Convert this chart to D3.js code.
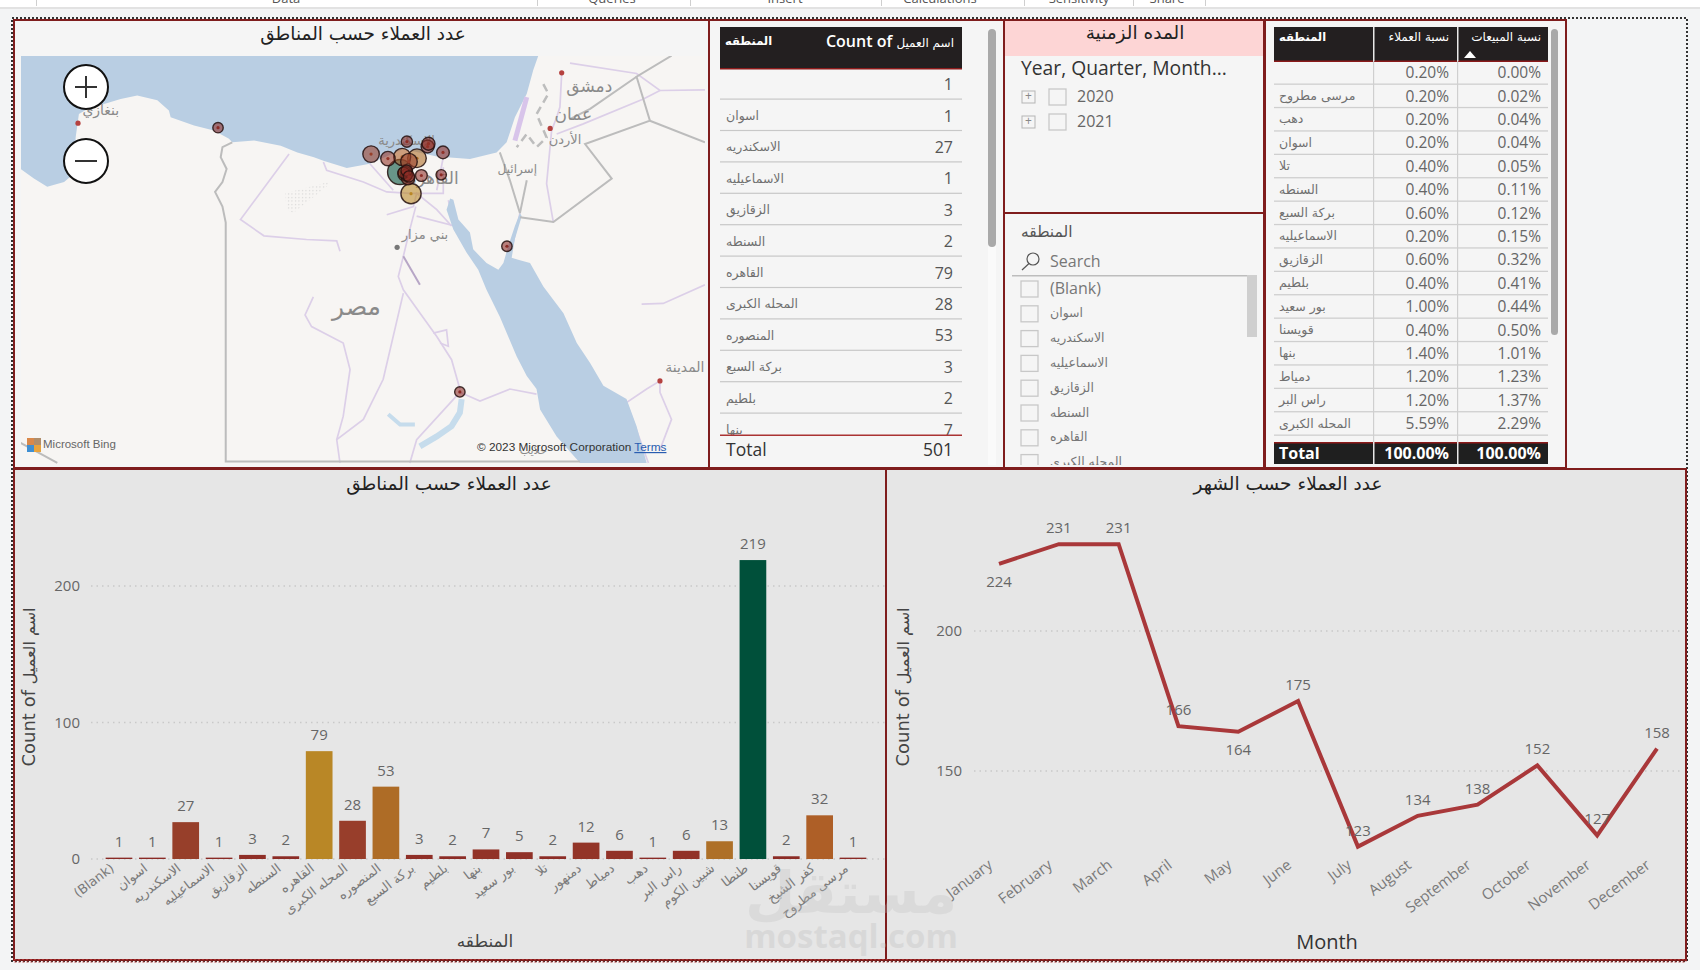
<!DOCTYPE html>
<html lang="ar"><head><meta charset="utf-8">
<script src="https://cdn.jsdelivr.net/npm/d3@7"></script>
<style>
html,body{margin:0;padding:0;background:#f3f4f5;overflow:hidden}
svg{display:block}
text{font-family:"Open Sans","DejaVu Sans",sans-serif}
.ar{font-family:"DejaVu Sans",sans-serif}
.axis path{display:none}
</style></head><body>
<script>
// ---------- data ----------
const regions=["(Blank)","اسوان","الاسكندريه","الاسماعيليه","الزقازيق","السنطه","القاهره","المحله الكبرى","المنصوره","بركة السبع","بلطيم","بنها","بور سعيد","تلا","دمنهور","دمياط","دهب","راس البر","شبين الكوم","طنطا","قويسنا","كفر الشيخ","مرسى مطروح"];
const regionCounts=[1,1,27,1,3,2,79,28,53,3,2,7,5,2,12,6,1,6,13,219,2,32,1];
const regionColors=["#8a2a25","#8a2a25","#973f2a","#8a2a25","#8f2f27","#8c2c26","#b98726","#983e2b","#ae6c26","#8f2f27","#8c2c26","#923328","#903128","#8c2c26","#933528","#923228","#8a2a25","#923228","#ae7028","#00503a","#8c2c26","#ae5f27","#8a2a25"];
const months=["January","February","March","April","May","June","July","August","September","October","November","December"];
const monthCounts=[224,231,231,166,164,175,123,134,138,152,127,158];
const monthsLabelBelow=["January","May"];
const barTicks=[0,100,200];
const lineTicks=[150,200];

const table1Names=["","اسوان","الاسكندريه","الاسماعيليه","الزقازيق","السنطه","القاهره","المحله الكبرى","المنصوره","بركة السبع","بلطيم","بنها"];
const table1Counts=[1,1,27,1,3,2,79,28,53,3,2,7];
const table1Total="501";

const table2Names=["","مرسى مطروح","دهب","اسوان","تلا","السنطه","بركة السبع","الاسماعيليه","الزقازيق","بلطيم","بور سعيد","قويسنا","بنها","دمياط","راس البر","المحله الكبرى"];
const table2Customers=["0.20%","0.20%","0.20%","0.20%","0.40%","0.40%","0.60%","0.20%","0.60%","0.40%","1.00%","0.40%","1.40%","1.20%","1.20%","5.59%"];
const table2Sales=["0.00%","0.02%","0.04%","0.04%","0.05%","0.11%","0.12%","0.15%","0.32%","0.41%","0.44%","0.50%","1.01%","1.23%","1.37%","2.29%"];

const sliceYears=["2020","2021"];
const sliceRegions=["(Blank)","اسوان","الاسكندريه","الاسماعيليه","الزقازيق","السنطه","القاهره","المحله الكبرى"];

const geoRegions=["مرسى مطروح","دهب","اسوان","الاسكندريه","بلطيم","دمياط","راس البر","بور سعيد","دمنهور","كفر الشيخ","المنصوره","المحله الكبرى","طنطا","شبين الكوم","بنها","تلا","السنطه","قويسنا","بركة السبع","الزقازيق","الاسماعيليه","القاهره"];
const geoLon=[24.73,34.49,32.9,29.9,31.11,31.81,31.84,32.33,30.47,30.95,31.45,31.18,30.88,31.05,31.15,31.0,31.1,31.18,31.1,31.6,32.27,31.25];
const geoLat=[31.96,28.5,24.09,31.2,31.56,31.42,31.5,31.25,31.07,31.12,31.08,30.98,30.68,30.63,30.5,30.66,30.72,30.55,30.6,30.58,30.6,30.05];

// ---------- base-map geography (lon, lat) ----------
const medSea=[[18.06,34],[35.55,34],[35.38,33.6],[35.16,32.93],[34.76,32.26],[34.48,31.54],[34.14,31.25],[33.24,31.06],[32.12,31.13],[30.99,31.35],[29.86,30.92],[29.08,30.8],[28.29,31.01],[27.97,31.11],[27.41,31.25],[26.85,31.44],[25.95,31.59],[25.21,31.54],[25.1,31.64],[24.59,31.88],[23.92,32.02],[23.13,32.26],[23.07,32.45],[22.68,32.74],[22,32.88],[21.44,32.78],[20.88,32.64],[20.43,32.55],[20.03,32.35],[19.92,31.68],[19.86,30.63],[19.53,30.39],[18.96,30.25],[18.51,30.49],[18.06,30.77]];
const redSea=[[32.57,29.91],[32.68,29.87],[32.85,29.29],[33.24,28.91],[33.35,28.41],[33.8,28],[34.2,27.8],[34.37,28],[34.54,28.52],[34.76,29.1],[34.93,29.48],[34.99,29.39],[34.76,28.72],[34.65,28.16],[34.87,28.1],[35.27,28],[35.72,27.3],[36.4,26.49],[36.85,25.59],[37.3,24.98],[37.75,24.28],[38.53,23.87],[38.87,23.03],[39.21,21.88],[36.96,21.88],[36.17,22.71],[35.61,23.55],[35.49,24.18],[35.16,24.58],[34.82,25.18],[34.25,26.39],[33.8,27.2],[33.52,27.8],[33.13,28.31],[32.68,29],[32.45,29.58]];
const borders=[
 [[25.21,31.54],[24.88,31.4],[24.82,31.11],[25.02,30.77],[24.88,30.39],[24.63,30.1],[24.88,29.67],[24.99,29.2],[24.99,21.93],[36.96,21.93]],
 [[34.25,31.25],[34.59,30.44],[34.93,29.48]],
 [[35.16,30.44],[34.93,29.48]],
 [[34.93,29.36],[36.06,29.22],[38.03,30.49],[37.13,31.49],[39.32,32.16],[38.87,33.41],[40.05,34]],
 [[39.32,32.16],[41.18,31.54]],
 [[38.87,33.41],[37.3,32.5],[36.6,32.2]],
 [[18.06,22.51],[19.3,21.88]]
];
const dashedBorders=[[[35.72,33.2],[35.89,32.93],[35.49,32.35],[35.83,31.68],[35.49,31.4],[35.16,31.78],[34.82,31.4]]];
const coastRoads=[[[35.16,32.83],[34.76,31.59]]];
const roads=[
 [[31.41,29.67],[31.21,29],[30.99,28.2],[30.82,27.6],[30.99,27.2],[31.55,26.5],[32.12,25.79],[32.62,25.08],[32.9,24.18]],
 [[27.13,31.2],[25.49,29.29],[26.28,28.81],[27.72,28.7],[28.74,28.66],[28.85,28.35]],
 [[31.44,29.39],[32.74,29.1],[32.51,29.86]],
 [[28.29,30.97],[28.4,30.73],[29.64,30.39],[30.43,30.1],[31.22,30.06],[32.34,30.06],[32.34,30.82]],
 [[29.86,30.92],[30.65,30.15]],
 [[30.43,29.43],[31.33,29.67],[31.44,30.06],[32.12,29.58],[32.62,29.1]],
 [[32.34,31.11],[32.12,30.15]],
 [[30.99,27.1],[30.31,24.48],[29.64,23.24],[28.74,22.61],[28.85,21.88]],
 [[27.95,26.99],[27.67,26.44],[27.89,26.09],[28.96,25.59],[29.19,24.78],[28.96,23.34],[28.74,22.61]],
 [[32,25.89],[32.45,25.99],[32.51,25.49],[32.23,25.59]],
 [[32.9,24.08],[33.58,23.81],[34.59,24.18],[35.49,24.02]],
 [[32.79,23.97],[31.44,22.61],[31.21,21.88]],
 [[36.34,33.5],[36.28,32.55],[36.17,32.26],[36,31.88],[35.83,30.34],[36.06,29.2]],
 [[36.62,33.79],[38.87,33.5],[39.66,33.02],[41.18,33.04]],
 [[39.66,33.02],[39.1,32.78],[37.07,32.07],[36.17,31.78]],
 [[39.04,26.77],[39.77,26.79],[41.18,27.35]],
 [[39.66,24.43],[39.21,24.18],[38.53,23.76],[39.27,21.88]],
 [[39.66,24.43],[39.66,24.08],[40.05,23.24],[39.66,22.3]],
 [[34.93,29.48],[34.7,28.6]]
];
const darkNile=[[30.99,28.2],[31.55,27.35]];
const lakeNasser=[[32.96,23.87],[32.9,23.45],[32.62,23.03],[32.12,22.71],[31.55,22.4]];
const toshka=[[30.48,23.4],[30.88,23.08],[31.38,23.08]];
const dotField=[[26.99,30.06],[28.46,30.39],[28.4,30.25],[27.27,29.48],[27.05,29.58]];
const mapLabels=[["بنغازي",20.77,32.43,14],["دمشق",37.27,33.12,17],["عمان",36.73,32.33,17],["الأردن",36.45,31.59,13],["إسرائيل",34.84,30.74,12],["الإسكندرية",31.1,31.57,13],["القاهرة",32,30.49,17],["بني مزار",31.72,28.81,13],["مصر",29.41,26.64,25],["المدينة",40.5,24.83,14],["حلايب",35.38,22.24,11]];
const mapCityDots=[[20,32.09,"#b5413f"],[36.34,33.52,"#b5413f"],[35.95,31.94,"#b5413f"],[30.78,28.47,"#777"],[39.66,24.43,"#b5413f"]];

// ---------- helpers ----------
const svg=d3.select("body").append("svg").attr("width",1700).attr("height",970).attr("viewBox","0 0 1700 970");
const DARK="#7f1d1d", GREY="#666";
function T(g,x,y,s,o={}){
  const yy=o.cls?y:y+1;
  const t=g.append("text").attr("x",x).attr("y",yy).attr("dominant-baseline","middle")
   .attr("text-anchor",o.anchor||"start").attr("font-size",o.size||14).attr("fill",o.fill||GREY).text(s);
  if(o.weight)t.attr("font-weight",o.weight);
  if(o.rotate!=null)t.attr("transform",`rotate(${o.rotate},${x},${yy})`);
  if(o.cls)t.attr("class",o.cls);
  if(o.op)t.attr("opacity",o.op);
  return t;
}
function box(g,x,y,w,h,fill,stroke,sw){
  return g.append("rect").attr("x",x).attr("y",y).attr("width",w).attr("height",h)
   .attr("fill",fill||"none").attr("stroke",stroke||"none").attr("stroke-width",sw||0);
}
const defs=svg.append("defs");
function clip(id,x,y,w,h){defs.append("clipPath").attr("id",id).append("rect").attr("x",x).attr("y",y).attr("width",w).attr("height",h);}

// ---------- ribbon ----------
const rib=svg.append("g");
box(rib,0,0,1700,7,"#ffffff");
rib.append("rect").attr("x",0).attr("y",7).attr("width",1700).attr("height",2).attr("fill","#e2e2e2");
clip("ribClip",0,0,1700,6);
const ribIn=rib.append("g").attr("clip-path","url(#ribClip)");
[["Data",286],["Queries",612],["Insert",785],["Calculations",940],["Sensitivity",1079],["Share",1167]].forEach(d=>T(ribIn,d[1],-1,d[0],{anchor:"middle",size:13,fill:"#555"}));
[36,537,690,881,1024,1133,1205].forEach(x=>box(rib,x,0,1,6,"#cfcfcf"));

// ---------- panel backgrounds ----------
box(svg,14,20,1552,448,"#f5f5f5");
box(svg,14,469,1672,491,"#e6e6e6");

// ---------- map ----------
const proj=d3.geoMercator().scale(1696).translate([-514,1127]);
const mapG=svg.append("g");
T(mapG,363,35,"عدد العملاء حسب المناطق",{anchor:"middle",size:18.5,fill:"#222",cls:"ar"});
clip("mapClip",21,56,684,408);
const mc=mapG.append("g").attr("clip-path","url(#mapClip)");
box(mc,21,56,684,408,"#f7f5f3");
const lineGen=d3.line().x(d=>proj(d)[0]).y(d=>proj(d)[1]);
mc.selectAll(".rd").data(roads).join("path").attr("d",lineGen).attr("fill","none").attr("stroke","#dccfe8").attr("stroke-width",1.7);
mc.append("path").attr("d",lineGen(darkNile)).attr("fill","none").attr("stroke","#b7a6c6").attr("stroke-width",2);
mc.append("path").attr("d",lineGen(lakeNasser)).attr("fill","none").attr("stroke","#c6dcec").attr("stroke-width",6);
mc.append("path").attr("d",lineGen(toshka)).attr("fill","none").attr("stroke","#c6dcec").attr("stroke-width",4);
mc.selectAll(".sea").data([medSea,redSea]).join("path").attr("d",d=>lineGen(d)+"Z").attr("fill","#b9cee3");
mc.selectAll(".cr").data(coastRoads).join("path").attr("d",lineGen).attr("fill","none").attr("stroke","#d8c4ea").attr("stroke-width",5);
mc.selectAll(".bd").data(borders).join("path").attr("d",lineGen).attr("fill","none").attr("stroke","#bcbcbc").attr("stroke-width",2);
mc.selectAll(".db").data(dashedBorders).join("path").attr("d",lineGen).attr("fill","none").attr("stroke","#bdbdbd").attr("stroke-width",2.5).attr("stroke-dasharray","8 5");
const pat=defs.append("pattern").attr("id","dots").attr("width",3.5).attr("height",3.5).attr("patternUnits","userSpaceOnUse");
pat.append("circle").attr("cx",1.5).attr("cy",1.5).attr("r",.6).attr("fill","#cfcfcf");
mc.append("path").attr("d",lineGen(dotField)+"Z").attr("fill","url(#dots)");
mapLabels.forEach(d=>{const p=proj([d[1],d[2]]);
  T(mc,p[0],p[1],d[0],{anchor:"middle",size:d[3],fill:"#8a8a8a",cls:"ar"});});
mc.selectAll(".cd").data(mapCityDots).join("circle").attr("cx",d=>proj(d)[0]).attr("cy",d=>proj(d)[1]).attr("r",2.6).attr("fill",d=>d[2]);

const bubbleData=geoRegions.map((r,i)=>{const k=regions.indexOf(r);return {r,lon:geoLon[i],lat:geoLat[i],v:regionCounts[k],c:regionColors[k]};})
  .sort((a,b)=>d3.descending(a.v,b.v));
const rScale=d3.scalePow().exponent(.3).domain([1,219]).range([5.2,12.5]);
const bub=mc.selectAll(".b").data(bubbleData).join("g").attr("transform",d=>`translate(${proj([d.lon,d.lat])})`);
bub.append("circle").attr("r",d=>rScale(d.v)).attr("fill",d=>d.c).attr("fill-opacity",.58).attr("stroke","#24110f").attr("stroke-width",1.4).attr("stroke-opacity",.85);
bub.append("circle").attr("r",1.6).attr("fill",d=>d.c);

// zoom buttons
[[86,87,"+"],[86,161,"-"]].forEach(d=>{
  mapG.append("circle").attr("cx",d[0]).attr("cy",d[1]).attr("r",22).attr("fill","#fff").attr("stroke","#111").attr("stroke-width",2);
  mapG.append("line").attr("x1",d[0]-11).attr("x2",d[0]+11).attr("y1",d[1]).attr("y2",d[1]).attr("stroke","#333").attr("stroke-width",2);
  if(d[2]==="+")mapG.append("line").attr("x1",d[0]).attr("x2",d[0]).attr("y1",d[1]-11).attr("y2",d[1]+11).attr("stroke","#333").attr("stroke-width",2);
});
// logos
[["#d9884a",27,438],["#b08d6a",34,438],["#3f8fd2",27,445],["#e8a33d",34,445]].forEach(d=>box(mapG,d[1],d[2],7,7,d[0]));
T(mapG,43,444,"Microsoft Bing",{size:11.5,fill:"#666"}).style("font-family","Liberation Sans");
const crT=mapG.append("text").attr("x",477).attr("y",448).attr("dominant-baseline","middle").attr("font-size",11.8).attr("fill","#333").style("font-family","Liberation Sans");
crT.append("tspan").text("© 2023 Microsoft Corporation ");
crT.append("tspan").attr("fill","#2a5db0").attr("text-decoration","underline").text("Terms");

// ---------- table 1 ----------
const t1=svg.append("g");
box(t1,720,27,242,42,"#231f20");
box(t1,720,68,242,1.5,"#8b1a1a");
T(t1,725,41,"المنطقه",{size:11.5,fill:"#fff",weight:"bold",cls:"ar"});
const hdr=t1.append("text").attr("x",954).attr("y",43).attr("dominant-baseline","middle").attr("text-anchor","end").attr("fill","#fff");
hdr.append("tspan").attr("font-size",16).attr("font-weight",600).text("Count of ");
hdr.append("tspan").attr("font-size",12).attr("class","ar").text("اسم العميل");
clip("t1Clip",715,69,250,366);
const t1Rows=t1.append("g").attr("clip-path","url(#t1Clip)");
const y1=d3.scaleLinear().domain([0,1]).range([85,116.4]);
table1Names.forEach((n,i)=>{
  T(t1Rows,726,y1(i),n,{size:12.5,fill:"#707070",cls:"ar"});
  T(t1Rows,953,y1(i),table1Counts[i],{anchor:"end",size:16,fill:"#555"});
  box(t1Rows,720,y1(i)+13.5,242,1.2,"#c8c8c8");
});
box(t1,720,434.5,242,1.5,"#a33");
T(t1,726,450,"Total",{size:17.5,fill:"#333",weight:"500"});
T(t1,953,450,table1Total,{anchor:"end",size:17.5,fill:"#333",weight:"500"});
box(t1,988,29,8,436,"#fafafa");
box(t1,988,29,8,218,"#a9a9a9").attr("rx",4);

// ---------- date slicer ----------
const s1=svg.append("g");
box(s1,1004,20,260,36,"#fdd5d5");
T(s1,1135,34,"المده الزمنية",{anchor:"middle",size:18.5,fill:"#222",cls:"ar"});
T(s1,1021,69,"Year, Quarter, Month...",{size:19.3,fill:"#333"});
sliceYears.forEach((y,i)=>{
  const cy=97+i*25;
  box(s1,1022,cy-6,13,12,"#f5f5f5","#b5b5b5",1);
  T(s1,1028.5,cy-1,"+",{anchor:"middle",size:12,fill:"#888"});
  box(s1,1049,cy-8,17,16,"#f5f5f5","#c8c8c8",1.3);
  T(s1,1077,cy,y,{size:16,fill:"#666"});
});
// ---------- region slicer ----------
const s2=svg.append("g");
T(s2,1021,232,"المنطقه",{size:15.5,fill:"#555",cls:"ar"});
s2.append("circle").attr("cx",1033).attr("cy",259).attr("r",6).attr("fill","none").attr("stroke","#555").attr("stroke-width",1.2);
s2.append("line").attr("x1",1029).attr("y1",263.5).attr("x2",1022).attr("y2",270).attr("stroke","#555").attr("stroke-width",1.2);
T(s2,1050,262,"Search",{size:16,fill:"#777"});
box(s2,1012,275,245,1.5,"#bdbdbd");
box(s2,1247,275,10,62,"#cfcfcf");
clip("s2Clip",1010,276,250,189);
const s2In=s2.append("g").attr("clip-path","url(#s2Clip)");
const ys=d3.scaleLinear().domain([0,1]).range([289,313.8]);
sliceRegions.forEach((n,i)=>{
  box(s2In,1021,ys(i)-8,17,16,"#f5f5f5","#c8c8c8",1.3);
  T(s2In,1050,ys(i),n,{size:i?12.5:16,fill:"#777",cls:i?"ar":null});
});

// ---------- table 2 ----------
const t2=svg.append("g");
box(t2,1274,27,274,34,"#231f20");
box(t2,1274,60.5,274,1.5,"#8b1a1a");
T(t2,1279,37,"المنطقه",{size:11.5,fill:"#fff",weight:"bold",cls:"ar"});
T(t2,1449,37,"نسبة العملاء",{anchor:"end",size:12,fill:"#fff",cls:"ar"});
T(t2,1541,37,"نسبة المبيعات",{anchor:"end",size:12,fill:"#fff",cls:"ar"});
t2.append("path").attr("d","M1464,58L1470,51L1476,58Z").attr("fill","#fff");
const y2=d3.scaleLinear().domain([0,1]).range([73,96.4]);
table2Names.forEach((n,i)=>{
  T(t2,1279,y2(i),n,{size:12.5,fill:"#707070",cls:"ar"});
  T(t2,1449,y2(i),table2Customers[i],{anchor:"end",size:15.5,fill:"#666"});
  T(t2,1541,y2(i),table2Sales[i],{anchor:"end",size:15.5,fill:"#666"});
  box(t2,1274,y2(i)+10.5,274,1.3,"#cfcfcf");
});
[1373,1457].forEach(x=>box(t2,x,61,1.2,381,"#cfcfcf"));
box(t2,1274,442,274,22,"#1f1f1f");
box(t2,1274,442,274,1.5,"#8b1a1a");
[1373,1457].forEach(x=>box(t2,x,27,1.5,34,"#e8e8e8"));
[1373,1457].forEach(x=>box(t2,x,442,1.5,22,"#e8e8e8"));
T(t2,1279,454,"Total",{size:16,fill:"#fff",weight:"bold"});
T(t2,1449,454,"100.00%",{anchor:"end",size:16,fill:"#fff",weight:"bold"});
T(t2,1541,454,"100.00%",{anchor:"end",size:16,fill:"#fff",weight:"bold"});
box(t2,1551,29,7,306,"#a9a9a9").attr("rx",3.5);

// ---------- bar chart ----------
const bc=svg.append("g");
T(bc,449,485,"عدد العملاء حسب المناطق",{anchor:"middle",size:18.5,fill:"#222",cls:"ar"});
const xB=d3.scaleBand().domain(regions).range([102.3,869.7]).paddingInner(.2).paddingOuter(.1);
const yB=d3.scaleLinear().domain([0,200]).range([859,586]);
function grid(g,scale,ticks,x1,x2){
  g.selectAll(null).data(ticks).join("line").attr("x1",x1).attr("x2",x2).attr("y1",d=>scale(d)).attr("y2",d=>scale(d))
   .attr("stroke","#c9c9c9").attr("stroke-width",1.3).attr("stroke-dasharray","1.5 4");
}
grid(bc,yB,barTicks,91,885);
const yAxisB=bc.append("g").attr("class","axis").attr("transform","translate(84,0)").call(d3.axisLeft(yB).tickValues(barTicks).tickSize(0).tickPadding(4));
yAxisB.selectAll("text").attr("font-size",15).attr("fill","#666").style("font-family",'"Open Sans"');
bc.selectAll(".bar").data(regions).join("rect").attr("x",d=>xB(d)).attr("width",xB.bandwidth())
 .attr("y",(d,i)=>yB(regionCounts[i])).attr("height",(d,i)=>yB(0)-yB(regionCounts[i])).attr("fill",(d,i)=>regionColors[i]);
bc.selectAll(".lab").data(regions).join("text").attr("x",d=>xB(d)+xB.bandwidth()/2).attr("y",(d,i)=>yB(regionCounts[i])-15)
 .attr("text-anchor","middle").attr("dominant-baseline","middle").attr("font-size",15).attr("fill","#666").text((d,i)=>regionCounts[i]);
const xAxisB=bc.append("g").attr("class","axis").attr("transform","translate(0,859)").call(d3.axisBottom(xB).tickSize(0).tickPadding(0));
xAxisB.selectAll("text").attr("text-anchor","end").attr("font-size",13).attr("fill","#7a7a7a").attr("dy",0).attr("y",0)
 .attr("class","ar").attr("transform","translate(-4,11) rotate(-37)");
function yTitle(g,x){
  const t=g.append("text").attr("transform",`translate(${x},687) rotate(-90)`).attr("text-anchor","middle").attr("dominant-baseline","middle").attr("fill","#444").attr("class","ar");
  t.append("tspan").attr("font-size",18).text("Count of ");
  t.append("tspan").attr("font-size",16).text("اسم العميل");
}
yTitle(bc,30);
T(bc,485,942,"المنطقه",{anchor:"middle",size:17,fill:"#444",cls:"ar"});

// ---------- line chart ----------
const lc=svg.append("g");
T(lc,1288,485,"عدد العملاء حسب الشهر",{anchor:"middle",size:18.5,fill:"#222",cls:"ar"});
const xL=d3.scalePoint().domain(months).range([999,1657]);
const yL=d3.scaleLinear().domain([150,200]).range([771,631]);
grid(lc,yL,lineTicks,974,1680);
const yAxisL=lc.append("g").attr("class","axis").attr("transform","translate(966,0)").call(d3.axisLeft(yL).tickValues(lineTicks).tickSize(0).tickPadding(4));
yAxisL.selectAll("text").attr("font-size",15).attr("fill","#666").style("font-family",'"Open Sans"');
lc.append("path").attr("d",d3.line().x((d,i)=>xL(months[i])).y(d=>yL(d))(monthCounts))
 .attr("fill","none").attr("stroke","#a9383a").attr("stroke-width",4).attr("stroke-linejoin","miter");
lc.selectAll(".ml").data(months).join("text").attr("x",d=>xL(d))
 .attr("y",(d,i)=>yL(monthCounts[i])+(monthsLabelBelow.includes(d)?19:-15))
 .attr("text-anchor","middle").attr("dominant-baseline","middle").attr("font-size",15).attr("fill","#666").text((d,i)=>monthCounts[i]);
const xAxisL=lc.append("g").attr("class","axis").attr("transform","translate(0,859)").call(d3.axisBottom(xL).tickSize(0).tickPadding(0));
xAxisL.selectAll("text").attr("text-anchor","end").attr("font-size",15).attr("fill","#7a7a7a").attr("dy",0).attr("y",0)
 .style("font-family",'"Open Sans"').attr("transform","translate(-6,8) rotate(-37)");
yTitle(lc,904);
T(lc,1327,943,"Month",{anchor:"middle",size:20,fill:"#333"});

// ---------- frames ----------
const fr=svg.append("g");
box(fr,12,18,1675,943,"none","#333",2).attr("stroke-dasharray","2 2");
[[14,20,695,448],[709,20,295,448],[1004,20,260,193],[1004,213,260,255],[1265,20,301,448],[14,469,872,491],[886,469,800,491]]
 .forEach(d=>box(fr,d[0],d[1],d[2],d[3],"none",DARK,2));
box(fr,14,959.5,1672,2.5,"none","#a33",1).attr("stroke-dasharray","2 2");

// ---------- watermark ----------
const wm=svg.append("g").attr("pointer-events","none");
T(wm,851,897,"مستقل",{anchor:"middle",size:58,fill:"#bdbdbd",weight:"bold",cls:"ar",op:.28});
T(wm,851,938,"mostaql.com",{anchor:"middle",size:33,fill:"#bdbdbd",weight:"bold",op:.32});
</script>
</body></html>
